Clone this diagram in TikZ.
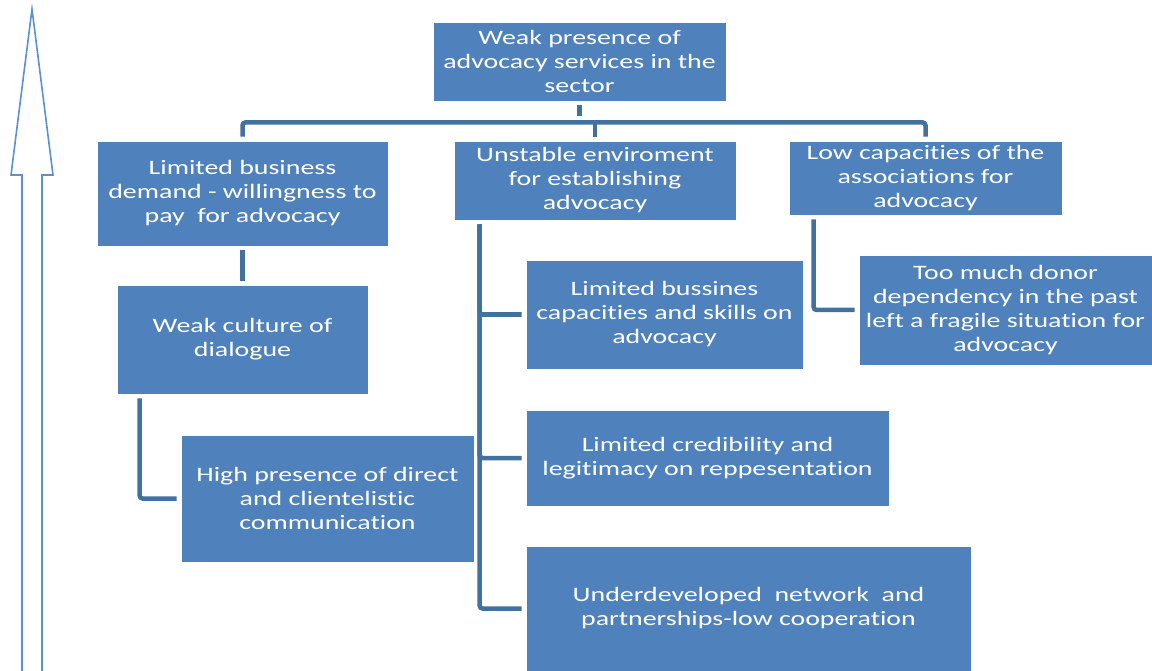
\documentclass[tikz,border=0pt]{standalone}
\usepackage{fontspec}
\setmainfont{Carlito}[FakeStretch=1.36, Ligatures=NoCommon]
\usepackage{tikz}
\usetikzlibrary{arrows.meta}
\definecolor{boxblue}{HTML}{4F81BD}
\definecolor{linkblue}{HTML}{41719C}
\definecolor{arrowblue}{HTML}{5B8FD6}
\tikzset{%
  % Specifications for style of nodes:
      cause/.style = {rectangle, draw=white, line width=0.8pt, fill=boxblue,
                      text=white, align=center, inner sep=0pt,
                      font=\rmfamily\fontsize{20.5}{24}\selectfont},
  % Specifications for style of connectors:
       link/.style = {draw=linkblue, line width=4.5pt, rounded corners=3pt,
                      shorten >=4pt, shorten <=4pt},
   bigarrow/.style = {draw=arrowblue, line width=1.6pt, line join=miter},
}

\begin{document}
\begin{tikzpicture}[x=1pt, y=-1pt]
  \useasboundingbox (0,0) rectangle (1152,671);

  % upward arrow
  \draw[bigarrow] (22,680) -- (22,175) -- (11,175) -- (32,9) -- (53,175) -- (42,175) -- (42,680);

  \node (top)     [cause, minimum width=293pt, minimum height=79pt] at (579.5,61.5)
                  {Weak presence of\\advocacy services in the\\sector};
  \node (biz)     [cause, minimum width=291pt, minimum height=105pt, below of=top, node distance=132pt, xshift=-337pt]
                  {Limited business\\demand - willingness to\\pay\ \ for advocacy};
  \node (unstable)[cause, minimum width=282pt, minimum height=79pt, below of=top, node distance=119pt, xshift=15.5pt]
                  {Unstable enviroment\\for establishing\\advocacy};
  \node (lowcap)  [cause, minimum width=273pt, minimum height=74pt, below of=top, node distance=116.5pt, xshift=346pt]
                  {Low capacities of the\\associations for\\advocacy};
  \node (culture) [cause, minimum width=251pt, minimum height=109pt, below of=biz, node distance=146pt]
                  {Weak culture of\\dialogue};
  \node (high)    [cause, minimum width=293pt, minimum height=127pt, below of=culture, node distance=159pt, xshift=85pt]
                  {High presence of direct\\and clientelistic\\communication};
  \node (skills)  [cause, minimum width=277pt, minimum height=109pt, below of=unstable, node distance=134pt, xshift=69.5pt]
                  {Limited bussines\\capacities and skills on\\advocacy};
  \node (cred)    [cause, minimum width=363pt, minimum height=96pt, below of=skills, node distance=143.5pt, xshift=43pt]
                  {Limited credibility and\\legitimacy on reppesentation};
  \node (network) [cause, minimum width=445pt, minimum height=125pt, below of=cred, node distance=150.5pt, xshift=41pt]
                  {Underdeveloped\ \ network\ \ and\\partnerships-low cooperation};
  \node (donor)   [cause, minimum width=293pt, minimum height=110pt, below of=lowcap, node distance=132pt, xshift=80pt]
                  {Too much donor\\dependency in the past\\left a fragile situation for\\advocacy};

  \coordinate (bar) at ([yshift=-21pt]top.south);

  \draw[link] (top.south) -- ([yshift=2pt]bar);
  \draw[link] (biz.north) |- (bar) -| (lowcap.north);
  \draw[link, shorten <=0pt] (bar -| unstable.north) -- (unstable.north);
  \draw[link] (biz) -- (culture);
  \draw[link] ([xshift=23pt]culture.south west) |- (high.west);
  \draw[link] ([xshift=26pt]unstable.south west) |- (skills.west);
  \draw[link] ([xshift=26pt]unstable.south west) |- (cred.west);
  \draw[link] ([xshift=26pt]unstable.south west) |- (network.west);
  \draw[link] ([xshift=25pt]lowcap.south west) |- (donor.west);
\end{tikzpicture}
\end{document}
